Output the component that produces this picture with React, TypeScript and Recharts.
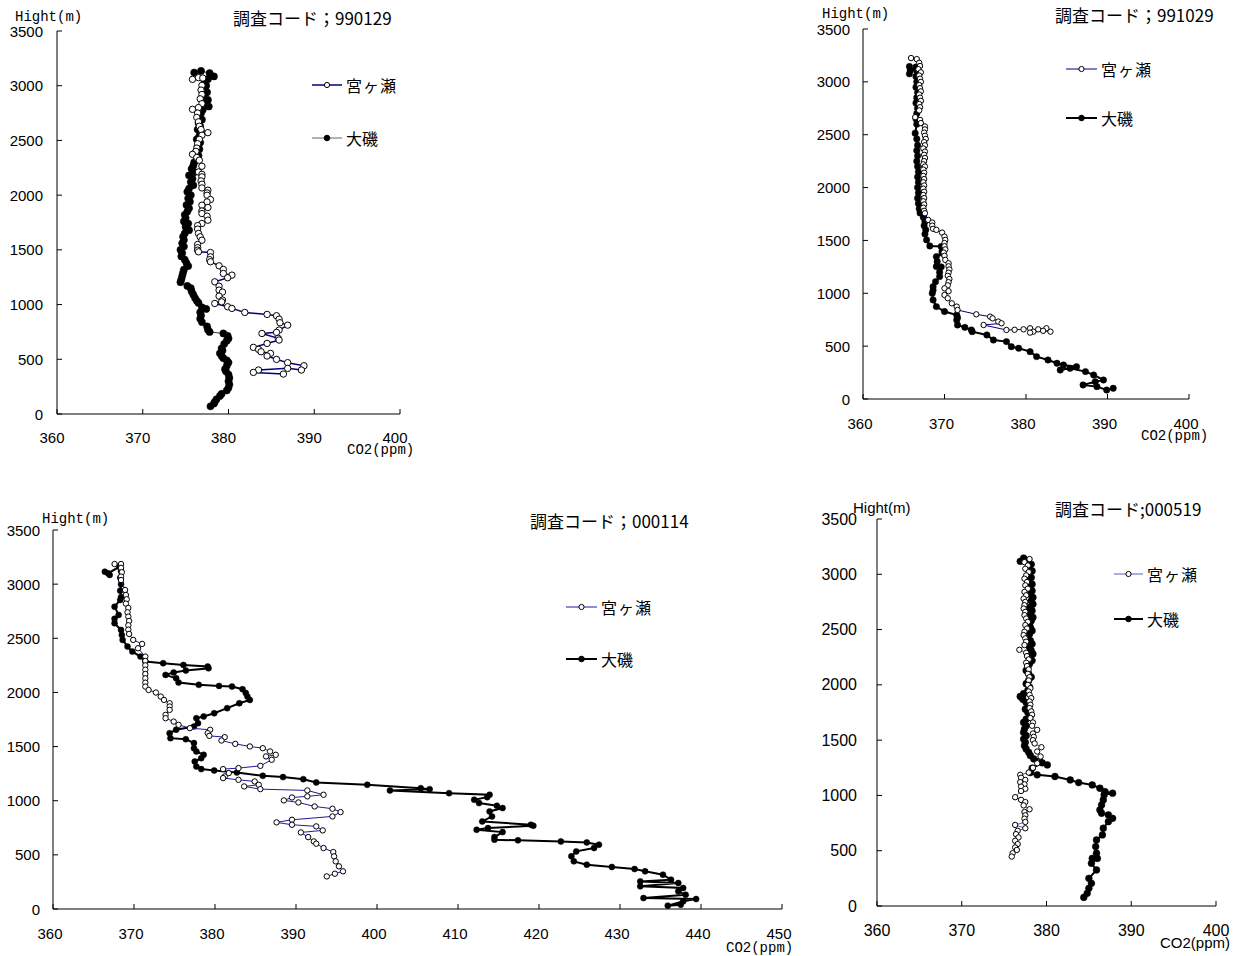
import React from "react"
import { ScatterChart, Scatter, XAxis, YAxis, Legend } from "recharts"

type Pt = [number, number] // [CO2 (ppm), height (m)]

const SITE_A = "宮ヶ瀬"
const SITE_B = "大磯"

const HEIGHT_TICKS = [0, 500, 1000, 1500, 2000, 2500, 3000, 3500]
const CO2_TICKS = [360, 370, 380, 390, 400]
const CO2_TICKS_WIDE = [360, 370, 380, 390, 400, 410, 420, 430, 440, 450]

// 990129
const P1_MIYAGASE: Pt[] = [
  [375.8, 3058], [376.5, 3074], [377.0, 3070], [376.9, 3003], [376.8, 2960], [376.9, 2920], [376.7, 2880],
  [376.9, 2836], [376.5, 2800], [375.8, 2784], [376.4, 2750], [376.3, 2710], [376.5, 2670], [376.6, 2630],
  [376.8, 2600], [377.6, 2571], [376.9, 2547], [376.6, 2510], [376.4, 2470], [376.3, 2430], [376.2, 2400],
  [375.8, 2373], [376.3, 2345], [376.6, 2319], [376.9, 2264], [376.5, 2212], [376.9, 2190], [376.9, 2167],
  [376.8, 2130], [376.9, 2100], [376.9, 2066], [377.6, 2045], [377.5, 2020], [377.5, 1999], [377.9, 1960],
  [377.5, 1938], [376.9, 1908], [377.6, 1887], [376.9, 1855], [376.9, 1832], [377.5, 1808], [377.6, 1771],
  [376.9, 1741], [376.4, 1722], [376.4, 1690], [376.5, 1650], [376.7, 1619], [376.9, 1588], [376.4, 1549],
  [376.4, 1520], [376.4, 1497], [376.5, 1482], [377.9, 1476], [377.9, 1436], [377.8, 1410], [377.9, 1391],
  [378.9, 1354], [379.4, 1321], [379.4, 1284], [380.4, 1269], [379.9, 1245], [378.4, 1208], [378.9, 1168],
  [378.9, 1132], [379.3, 1114], [378.9, 1077], [379.3, 1041], [379.2, 1025], [378.4, 1010], [379.9, 980],
  [380.4, 965], [381.9, 928], [384.5, 910], [385.6, 898], [385.9, 867], [386.0, 834], [386.9, 812],
  [385.9, 767], [385.6, 746], [383.9, 736], [385.8, 691], [385.9, 676], [384.5, 645], [382.9, 609],
  [383.5, 590], [383.8, 569], [384.9, 554], [384.5, 530], [385.6, 499], [386.9, 469], [388.8, 441],
  [388.5, 402], [386.9, 417], [383.5, 402], [382.9, 380], [386.4, 365],
]
const P1_OISO: Pt[] = [
  [376.0, 3120], [376.8, 3135], [377.8, 3115], [378.3, 3085], [377.6, 3060], [377.2, 3030], [377.4, 3000],
  [377.0, 2970], [377.5, 2940], [377.1, 2905], [377.6, 2870], [377.3, 2840], [377.7, 2810], [377.0, 2780],
  [376.8, 2750], [376.6, 2720], [376.9, 2690], [376.5, 2660], [376.7, 2630], [376.4, 2600], [376.8, 2570],
  [376.6, 2540], [376.3, 2510], [376.7, 2480], [376.4, 2450], [376.6, 2420], [376.2, 2390], [376.5, 2360],
  [376.3, 2330], [376.0, 2300], [375.9, 2270], [375.7, 2240], [376.0, 2210], [375.4, 2180], [375.8, 2150],
  [375.6, 2120], [375.9, 2090], [375.4, 2060], [375.2, 2030], [375.6, 2000], [375.3, 1970], [375.5, 1940],
  [375.1, 1910], [375.4, 1880], [375.2, 1850], [374.9, 1820], [375.0, 1790], [374.8, 1760], [375.3, 1740],
  [375.0, 1710], [375.4, 1680], [374.9, 1650], [374.7, 1620], [374.8, 1590], [374.6, 1560], [374.8, 1530],
  [374.4, 1500], [374.6, 1470], [374.5, 1440], [374.9, 1410], [375.1, 1380], [375.3, 1352], [374.8, 1320],
  [374.7, 1290], [374.6, 1260], [374.5, 1230], [374.4, 1205], [375.2, 1170], [375.6, 1150], [375.7, 1120],
  [375.9, 1090], [376.1, 1060], [376.3, 1035], [376.5, 1015], [376.9, 975], [377.4, 960], [376.7, 930],
  [376.8, 900], [376.7, 870], [376.9, 840], [377.5, 800], [377.6, 770], [377.8, 750], [379.4, 736],
  [379.9, 715], [380.0, 690], [379.8, 670], [379.5, 640], [379.2, 600], [379.3, 580], [379.0, 555],
  [379.2, 530], [379.4, 510], [379.8, 490], [380.0, 470], [379.8, 440], [379.6, 410], [379.7, 390],
  [380.0, 360], [380.1, 330], [380.0, 300], [380.1, 270], [380.0, 240], [379.8, 215], [379.2, 185],
  [379.0, 165], [378.6, 135], [378.4, 110], [378.3, 95], [377.9, 70],
]

// 991029
const P2_MIYAGASE: Pt[] = [
  [365.9, 3225], [366.6, 3215], [366.9, 3180], [367.0, 3150], [366.8, 3120], [367.1, 3090], [366.9, 3060],
  [367.0, 3030], [367.1, 3000], [366.9, 2970], [367.0, 2940], [367.1, 2910], [366.9, 2880], [367.0, 2850],
  [367.1, 2820], [366.9, 2790], [367.0, 2760], [366.9, 2730], [366.4, 2666], [367.0, 2640], [367.1, 2610],
  [367.6, 2578], [367.6, 2550], [367.5, 2520], [367.6, 2490], [367.7, 2460], [367.5, 2430], [367.6, 2400],
  [367.4, 2370], [367.6, 2340], [367.5, 2310], [367.6, 2280], [367.5, 2250], [367.4, 2220], [367.6, 2199],
  [367.4, 2170], [367.5, 2140], [367.4, 2110], [367.5, 2080], [367.4, 2050], [367.5, 2020], [367.4, 1990],
  [367.5, 1960], [367.4, 1930], [367.5, 1900], [367.4, 1870], [367.5, 1840], [367.4, 1810], [367.5, 1780],
  [367.6, 1757], [368.0, 1694], [368.5, 1669], [368.5, 1640], [368.6, 1610], [369.0, 1600], [369.7, 1574],
  [370.0, 1536], [370.1, 1505], [370.0, 1475], [370.0, 1445], [370.1, 1415], [369.9, 1385], [370.0, 1355],
  [370.1, 1316], [370.5, 1284], [370.5, 1255], [370.6, 1225], [370.5, 1195], [370.4, 1165], [370.6, 1135],
  [370.5, 1105], [370.4, 1075], [370.0, 1047], [370.5, 1020], [370.0, 984], [370.4, 953], [370.9, 905],
  [371.5, 874], [371.6, 842], [373.9, 801], [375.6, 779], [375.9, 763], [376.6, 732], [377.0, 716],
  [374.8, 700], [377.6, 653], [378.6, 655], [379.7, 659], [380.5, 669], [380.9, 637], [381.5, 659],
  [382.5, 669], [383.0, 637], [382.1, 645], [380.5, 628],
]
const P2_OISO: Pt[] = [
  [365.7, 3145], [365.8, 3110], [365.7, 3076], [366.5, 3140], [366.6, 3100], [366.5, 3050], [366.6, 3000],
  [366.5, 2950], [366.7, 2900], [366.6, 2850], [366.5, 2800], [366.7, 2750], [366.6, 2700], [366.5, 2650],
  [366.6, 2600], [366.4, 2514], [366.6, 2460], [366.7, 2400], [366.6, 2350], [366.7, 2300], [366.6, 2250],
  [366.7, 2200], [366.8, 2150], [366.7, 2100], [366.8, 2050], [366.7, 2000], [366.8, 1950], [366.7, 1900],
  [366.8, 1850], [366.9, 1800], [367.0, 1760], [367.4, 1720], [367.6, 1680], [367.5, 1640], [367.7, 1600],
  [367.6, 1560], [367.8, 1505], [368.2, 1448], [369.6, 1442], [369.7, 1400], [369.7, 1379], [369.0, 1347],
  [369.1, 1300], [369.0, 1253], [369.6, 1250], [369.4, 1200], [369.4, 1158], [368.9, 1110], [368.6, 1063],
  [368.6, 1030], [368.5, 1000], [368.6, 937], [369.0, 874], [370.0, 827], [371.5, 795], [371.6, 770],
  [371.5, 748], [371.6, 700], [372.5, 678], [373.3, 653], [373.4, 637], [375.2, 606], [376.0, 558],
  [377.6, 543], [378.2, 495], [379.1, 480], [380.5, 448], [381.3, 401], [382.7, 369], [383.8, 338],
  [384.6, 322], [386.2, 306], [384.2, 274], [385.4, 290], [387.3, 259], [388.3, 227], [389.5, 180],
  [388.5, 164], [387.0, 133], [388.7, 117], [389.9, 85], [390.7, 101],
]

// 000114
const P3_MIYAGASE: Pt[] = [
  [367.6, 3186], [368.4, 3186], [368.4, 3150], [368.5, 3110], [368.4, 3070], [368.4, 3038], [368.9, 2946],
  [369.0, 2900], [369.1, 2860], [369.0, 2820], [369.3, 2780], [369.2, 2740], [369.3, 2700], [369.4, 2660],
  [369.3, 2620], [369.3, 2580], [369.4, 2540], [369.9, 2485], [371.0, 2448], [370.5, 2408], [371.4, 2331],
  [371.4, 2290], [371.4, 2250], [371.4, 2210], [371.4, 2170], [371.4, 2130], [371.4, 2090], [371.4, 2054],
  [371.8, 2023], [372.7, 1999], [373.3, 1962], [373.7, 1931], [374.4, 1900], [374.4, 1870], [374.4, 1839],
  [373.9, 1793], [373.9, 1762], [374.9, 1731], [375.5, 1701], [376.9, 1670], [379.4, 1655], [379.1, 1624],
  [379.3, 1599], [381.2, 1587], [380.8, 1556], [382.5, 1525], [384.3, 1501], [385.9, 1485], [386.8, 1455],
  [387.5, 1424], [386.3, 1409], [387.0, 1378], [385.6, 1322], [382.9, 1301], [381.0, 1292], [381.7, 1255],
  [381.2, 1224], [381.0, 1209], [382.9, 1193], [384.9, 1178], [385.4, 1147], [383.6, 1132], [385.6, 1107],
  [391.4, 1095], [393.4, 1055], [391.4, 1040], [389.5, 1030], [388.5, 1003], [390.3, 984], [392.3, 947],
  [394.5, 926], [395.5, 895], [394.5, 855], [389.5, 824], [387.6, 800], [389.5, 778], [392.5, 763],
  [393.3, 726], [390.6, 707], [391.5, 664], [392.2, 624], [392.5, 603], [393.4, 563], [394.6, 526],
  [394.7, 486], [394.9, 440], [395.3, 394], [395.8, 348], [394.8, 326], [393.8, 301],
]
const P3_OISO: Pt[] = [
  [366.4, 3115], [367.0, 3085], [366.8, 3100], [368.2, 3160], [368.4, 3120], [368.3, 3060], [368.4, 3000],
  [368.3, 2940], [368.4, 2880], [368.3, 2854], [367.6, 2792], [368.1, 2716], [367.6, 2680], [367.6, 2639],
  [368.4, 2577], [368.5, 2530], [368.6, 2485], [369.2, 2423], [369.8, 2377], [370.8, 2331], [371.4, 2285],
  [373.6, 2270], [376.1, 2254], [379.1, 2239], [379.2, 2223], [376.4, 2202], [374.9, 2184], [373.9, 2162],
  [375.2, 2131], [375.5, 2091], [378.0, 2070], [380.5, 2060], [382.1, 2054], [383.4, 2030], [383.8, 1995],
  [384.0, 1962], [384.3, 1931], [383.0, 1900], [381.5, 1855], [379.9, 1808], [378.6, 1778], [377.7, 1762],
  [377.9, 1716], [377.4, 1685], [375.2, 1655], [374.4, 1624], [374.5, 1578], [376.4, 1568], [377.4, 1532],
  [377.4, 1485], [377.7, 1455], [378.6, 1424], [378.3, 1393], [377.5, 1362], [377.7, 1316], [378.3, 1292],
  [379.9, 1279], [382.7, 1261], [385.9, 1230], [388.4, 1218], [390.9, 1199], [392.5, 1169], [398.8, 1147],
  [405.4, 1116], [406.5, 1107], [401.6, 1095], [408.9, 1070], [413.9, 1055], [413.6, 1033], [412.0, 1009],
  [412.6, 978], [414.8, 953], [415.5, 932], [413.9, 901], [414.2, 855], [413.0, 809], [419.0, 778],
  [419.3, 769], [413.7, 747], [412.3, 732], [415.5, 710], [414.5, 664], [414.5, 640], [417.4, 634],
  [422.7, 624], [425.9, 615], [427.4, 594], [426.8, 563], [424.6, 532], [424.0, 486], [424.3, 440],
  [425.9, 409], [429.0, 388], [431.8, 369], [433.1, 348], [435.3, 317], [436.3, 271], [432.5, 255],
  [437.2, 240], [432.5, 209], [437.8, 194], [437.2, 163], [438.1, 132], [432.9, 101], [439.4, 92],
  [437.8, 71], [435.9, 31], [437.5, 40],
]

// 000519
const P4_MIYAGASE: Pt[] = [
  [378.0, 3138], [377.4, 3110], [377.8, 3080], [377.5, 3050], [377.9, 3020], [377.6, 2990], [377.4, 2960],
  [377.7, 2930], [377.5, 2900], [377.8, 2870], [377.4, 2840], [377.6, 2810], [377.3, 2780], [377.5, 2750],
  [377.4, 2720], [377.3, 2690], [377.5, 2660], [377.4, 2630], [377.6, 2600], [377.8, 2570], [377.5, 2540],
  [377.7, 2510], [377.4, 2480], [377.3, 2450], [377.5, 2420], [377.6, 2390], [377.4, 2360], [376.8, 2317],
  [377.6, 2290], [377.7, 2260], [377.9, 2230], [377.6, 2200], [377.7, 2170], [377.9, 2140], [377.8, 2100],
  [378.0, 2070], [377.9, 2040], [377.8, 2000], [378.1, 1970], [377.9, 1940], [378.0, 1910], [378.2, 1880],
  [378.0, 1850], [378.1, 1820], [378.0, 1790], [378.2, 1760], [378.3, 1730], [378.1, 1700], [378.4, 1660],
  [378.3, 1630], [378.9, 1593], [378.4, 1560], [378.5, 1530], [378.4, 1500], [378.6, 1470], [379.4, 1436],
  [378.9, 1397], [379.3, 1352], [378.9, 1291], [378.4, 1250], [377.9, 1207], [376.9, 1186], [377.0, 1160],
  [377.5, 1140], [376.9, 1120], [377.4, 1100], [377.0, 1080], [377.5, 1060], [377.0, 1040], [376.3, 984],
  [377.0, 960], [377.5, 940], [377.3, 910], [378.0, 875], [377.4, 850], [377.5, 820], [377.4, 790],
  [377.5, 760], [376.3, 733], [377.5, 703], [376.6, 680], [376.4, 650], [376.7, 620], [376.3, 590],
  [376.6, 560], [376.3, 530], [376.5, 507], [376.0, 477], [375.9, 447],
]
const P4_OISO: Pt[] = [
  [376.9, 3117], [377.3, 3147], [377.8, 3120], [378.2, 3090], [377.9, 3060], [378.3, 3030], [378.0, 3000],
  [378.2, 2970], [377.9, 2940], [378.3, 2910], [378.0, 2880], [378.3, 2850], [378.1, 2820], [378.4, 2790],
  [378.2, 2760], [378.4, 2730], [378.0, 2700], [378.3, 2670], [378.1, 2640], [378.4, 2610], [378.2, 2580],
  [378.0, 2550], [378.1, 2520], [378.3, 2490], [378.0, 2460], [377.8, 2430], [378.1, 2400], [378.3, 2370],
  [378.0, 2340], [378.2, 2310], [378.4, 2280], [378.1, 2250], [378.3, 2220], [378.0, 2190], [377.8, 2160],
  [377.6, 2130], [377.9, 2100], [378.2, 2070], [377.9, 2040], [377.6, 2010], [378.0, 1980], [377.8, 1950],
  [377.3, 1920], [376.9, 1895], [377.2, 1870], [377.6, 1840], [377.9, 1810], [377.5, 1780], [377.8, 1750],
  [378.1, 1720], [377.6, 1690], [377.3, 1660], [377.6, 1630], [377.4, 1600], [377.3, 1570], [377.6, 1540],
  [377.3, 1510], [377.5, 1480], [377.4, 1450], [377.6, 1420], [377.9, 1390], [378.1, 1360], [378.5, 1330],
  [379.2, 1310], [380.1, 1276], [379.5, 1295], [378.3, 1246], [378.1, 1207], [378.9, 1186], [381.0, 1171],
  [382.8, 1140], [383.8, 1116], [385.4, 1095], [386.3, 1065], [386.9, 1035], [387.8, 1020], [386.8, 1005],
  [386.7, 959], [386.5, 914], [386.3, 869], [386.5, 839], [387.3, 824], [387.8, 793], [387.3, 763],
  [386.7, 703], [386.6, 643], [385.9, 597], [385.8, 537], [385.9, 477], [385.4, 431], [386.0, 430],
  [385.3, 386], [385.9, 326], [385.0, 250], [385.3, 205], [385.0, 160], [384.8, 115], [384.4, 78],
]

const SANS = "'Liberation Sans', Arial, sans-serif"
const MONO = "'Liberation Mono', 'DejaVu Sans Mono', monospace"
const JP = "'Noto Sans CJK JP', sans-serif"

interface SeriesStyle {
  line: string
  lineWidth: number
  r: number
}

interface PanelConfig {
  code: string
  box: { left: number; top: number; width: number; height: number }
  plot: { left: number; top: number; right: number; bottom: number }
  xDomain: [number, number]
  xTicks: number[]
  miyagase: Pt[]
  oiso: Pt[]
  miyaStyle: SeriesStyle
  oisoStyle: SeriesStyle
  oisoLegendLine?: string
  tickFont: number
  xLabelDx: number
  xLabelDy: number
  yLabelGap: number
  axisFont: string
  axisFontSize: number
  hight: [number, number]
  title: [number, number]
  co2: [number, number]
  legend: { x: number; y: number; gap: number; lineLen: number }
}

const PANELS: PanelConfig[] = [
  {
    code: "調査コード；990129",
    box: { left: 0, top: 0, width: 430, height: 470 },
    plot: { left: 57, top: 31, right: 400, bottom: 414 },
    xDomain: [360, 400],
    xTicks: CO2_TICKS,
    miyagase: P1_MIYAGASE,
    oiso: P1_OISO,
    miyaStyle: { line: "#000080", lineWidth: 1.5, r: 3.2 },
    oisoStyle: { line: "#333", lineWidth: 1, r: 3.6 },
    oisoLegendLine: "#666",
    tickFont: 15,
    xLabelDx: -5,
    xLabelDy: 23,
    yLabelGap: 14,
    axisFont: MONO,
    axisFontSize: 14,
    hight: [15, 17],
    title: [233, 17],
    co2: [347, 450],
    legend: { x: 312, y: 85, gap: 53, lineLen: 30 },
  },
  {
    code: "調査コード；991029",
    box: { left: 790, top: 0, width: 447, height: 450 },
    plot: { left: 863, top: 29, right: 1189, bottom: 399 },
    xDomain: [360, 400],
    xTicks: CO2_TICKS,
    miyagase: P2_MIYAGASE,
    oiso: P2_OISO,
    miyaStyle: { line: "#000080", lineWidth: 1, r: 2.7 },
    oisoStyle: { line: "#000", lineWidth: 2, r: 3.2 },
    tickFont: 15,
    xLabelDx: -3,
    xLabelDy: 24,
    yLabelGap: 13,
    axisFont: MONO,
    axisFontSize: 14,
    hight: [822, 14],
    title: [1055, 14],
    co2: [1141, 436],
    legend: { x: 1066, y: 69, gap: 49, lineLen: 31 },
  },
  {
    code: "調査コード；000114",
    box: { left: 0, top: 480, width: 800, height: 476 },
    plot: { left: 53, top: 530, right: 782, bottom: 909 },
    xDomain: [360, 450],
    xTicks: CO2_TICKS_WIDE,
    miyagase: P3_MIYAGASE,
    oiso: P3_OISO,
    miyaStyle: { line: "#1c1c9c", lineWidth: 1, r: 2.7 },
    oisoStyle: { line: "#000", lineWidth: 2, r: 3 },
    tickFont: 15,
    xLabelDx: -3,
    xLabelDy: 24,
    yLabelGap: 13,
    axisFont: MONO,
    axisFontSize: 14,
    hight: [42, 519],
    title: [530, 520],
    co2: [726, 948],
    legend: { x: 566, y: 607, gap: 52, lineLen: 31 },
  },
  {
    code: "調査コード;000519",
    box: { left: 800, top: 480, width: 437, height: 476 },
    plot: { left: 877, top: 519, right: 1216, bottom: 906 },
    xDomain: [360, 400],
    xTicks: CO2_TICKS,
    miyagase: P4_MIYAGASE,
    oiso: P4_OISO,
    miyaStyle: { line: "#5a5ab8", lineWidth: 1, r: 2.7 },
    oisoStyle: { line: "#000", lineWidth: 2, r: 3.4 },
    tickFont: 16,
    xLabelDx: 0,
    xLabelDy: 24,
    yLabelGap: 20,
    axisFont: SANS,
    axisFontSize: 15,
    hight: [853, 507],
    title: [1055, 508],
    co2: [1160, 942],
    legend: { x: 1114, y: 574, gap: 45, lineLen: 29 },
  },
]

const toRows = (pts: Pt[]) => pts.map(([co2, h]) => ({ co2, h }))

const openDot = (r: number) => (props: any) =>
  <circle cx={props.cx} cy={props.cy} r={r} fill="#fff" stroke="#000" strokeWidth={1} />
const solidDot = (r: number) => (props: any) =>
  <circle cx={props.cx} cy={props.cy} r={r} fill="#000" stroke="#000" strokeWidth={0.5} />

function PanelLegend({ cfg, payload }: { cfg: PanelConfig; payload?: any[] }) {
  const names = [SITE_A, SITE_B].filter(
    (n) => !payload || payload.length === 0 || payload.some((p) => p.value === n)
  )
  const { lineLen, gap } = cfg.legend
  return (
    <div style={{ position: "relative", width: 130, height: gap + 20 }}>
      {names.map((name, i) => {
        const isA = name === SITE_A
        const st = isA ? cfg.miyaStyle : cfg.oisoStyle
        const stroke = isA ? st.line : cfg.oisoLegendLine || st.line
        return (
          <div
            key={name}
            style={{ position: "absolute", left: 0, top: i * gap, height: 20, display: "flex", alignItems: "center" }}
          >
            <svg width={lineLen} height={20}>
              <line x1={0} y1={10} x2={lineLen} y2={10} stroke={stroke} strokeWidth={st.lineWidth} />
              <circle cx={lineLen / 2} cy={10} r={isA ? 2.6 : 2.8} fill={isA ? "#fff" : "#000"} stroke="#000" strokeWidth={1} />
            </svg>
            <span style={{ marginLeft: 4, fontFamily: JP, fontSize: 16, color: "#000", letterSpacing: isA ? 1 : 0 }}>
              {name}
            </span>
          </div>
        )
      })}
    </div>
  )
}

function Panel({ cfg }: { cfg: PanelConfig }) {
  const { box, plot } = cfg
  const yAxisWidth = plot.left - box.left
  const xAxisHeight = box.top + box.height - plot.bottom
  const margin = { top: plot.top - box.top, right: box.left + box.width - plot.right, bottom: 0, left: 0 }

  const xTick = (props: any) => {
    const { x, y, payload } = props
    return (
      <g>
        <line x1={x} y1={y} x2={x} y2={y - 5} stroke="#000" />
        <text x={x + cfg.xLabelDx} y={y + cfg.xLabelDy} textAnchor="middle" dominantBaseline="central"
          fontFamily={SANS} fontSize={cfg.tickFont} fill="#000">
          {payload.value}
        </text>
      </g>
    )
  }
  const yTick = (props: any) => {
    const { x, y, payload } = props
    return (
      <g>
        <line x1={x} y1={y} x2={x + 5} y2={y} stroke="#000" />
        <text x={x - cfg.yLabelGap} y={y} textAnchor="end" dominantBaseline="central"
          fontFamily={SANS} fontSize={cfg.tickFont} fill="#000">
          {payload.value}
        </text>
      </g>
    )
  }

  return (
    <div style={{ position: "absolute", left: box.left, top: box.top }}>
      <ScatterChart width={box.width} height={box.height} margin={margin}>
        <XAxis
          type="number"
          dataKey="co2"
          domain={cfg.xDomain}
          ticks={cfg.xTicks}
          interval={0}
          height={xAxisHeight}
          tickSize={0}
          tickMargin={0}
          tickLine={false}
          axisLine={{ stroke: "#000" }}
          tick={xTick}
          allowDataOverflow
        />
        <YAxis
          type="number"
          dataKey="h"
          domain={[0, 3500]}
          ticks={HEIGHT_TICKS}
          interval={0}
          width={yAxisWidth}
          tickSize={0}
          tickMargin={0}
          tickLine={false}
          axisLine={{ stroke: "#000" }}
          tick={yTick}
          allowDataOverflow
        />
        <Legend
          layout="vertical"
          align="center"
          verticalAlign="middle"
          wrapperStyle={{
            left: cfg.legend.x - box.left,
            top: cfg.legend.y - 10 - box.top,
            width: 130,
            height: cfg.legend.gap + 20,
          }}
          content={(p: any) => <PanelLegend cfg={cfg} payload={p.payload} />}
        />
        <Scatter
          name={SITE_B}
          data={toRows(cfg.oiso)}
          fill="#000"
          line={{ stroke: cfg.oisoStyle.line, strokeWidth: cfg.oisoStyle.lineWidth }}
          shape={solidDot(cfg.oisoStyle.r)}
          isAnimationActive={false}
        />
        <Scatter
          name={SITE_A}
          data={toRows(cfg.miyagase)}
          fill="#fff"
          line={{ stroke: cfg.miyaStyle.line, strokeWidth: cfg.miyaStyle.lineWidth }}
          shape={openDot(cfg.miyaStyle.r)}
          isAnimationActive={false}
        />
      </ScatterChart>
    </div>
  )
}

const textStyle = (x: number, y: number, font: string, size: number): React.CSSProperties => ({
  position: "absolute",
  left: x,
  top: y,
  transform: "translateY(-50%)",
  fontFamily: font,
  fontSize: size,
  lineHeight: 1,
  whiteSpace: "nowrap",
  color: "#000",
})

export default function App() {
  return (
    <div style={{ position: "absolute", left: 0, top: 0, width: 1237, height: 956, background: "#fff", overflow: "hidden" }}>
      {PANELS.map((cfg) => (
        <Panel key={cfg.code} cfg={cfg} />
      ))}
      {PANELS.map((cfg) => (
        <React.Fragment key={cfg.code + "-text"}>
          <div style={textStyle(cfg.hight[0], cfg.hight[1], cfg.axisFont, cfg.axisFontSize)}>Hight(m)</div>
          <div style={textStyle(cfg.title[0], cfg.title[1], JP, 17)}>{cfg.code}</div>
          <div style={textStyle(cfg.co2[0], cfg.co2[1], cfg.axisFont, cfg.axisFontSize)}>CO2(ppm)</div>
        </React.Fragment>
      ))}
    </div>
  )
}
